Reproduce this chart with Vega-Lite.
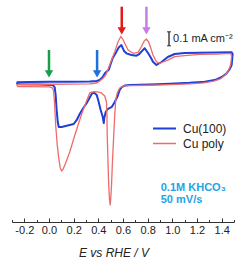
{
"$schema":"https://vega.github.io/schema/vega-lite/v6.json",
"width":222,"height":222,"autosize":"none",
"padding":{"left":12,"top":0,"right":12,"bottom":37},
"config":{"view":{"stroke":null},"font":"Liberation Sans"},
"datasets":{
"cv":[
{"s":"Cu(100)","i":1,"E":-0.262,"j":0.005},{"s":"Cu(100)","i":2,"E":-0.157,"j":0.007},{"s":"Cu(100)","i":3,"E":0.006,"j":0.009},{"s":"Cu(100)","i":4,"E":0.168,"j":0.009},{"s":"Cu(100)","i":5,"E":0.330,"j":0.010},{"s":"Cu(100)","i":6,"E":0.387,"j":0.014},{"s":"Cu(100)","i":7,"E":0.411,"j":0.021},{"s":"Cu(100)","i":8,"E":0.436,"j":0.043},{"s":"Cu(100)","i":9,"E":0.452,"j":0.068},{"s":"Cu(100)","i":10,"E":0.468,"j":0.082},{"s":"Cu(100)","i":11,"E":0.484,"j":0.093},{"s":"Cu(100)","i":12,"E":0.500,"j":0.136},{"s":"Cu(100)","i":13,"E":0.517,"j":0.179},{"s":"Cu(100)","i":14,"E":0.547,"j":0.224},{"s":"Cu(100)","i":15,"E":0.565,"j":0.254},{"s":"Cu(100)","i":16,"E":0.587,"j":0.271},{"s":"Cu(100)","i":17,"E":0.608,"j":0.229},{"s":"Cu(100)","i":18,"E":0.628,"j":0.212},{"s":"Cu(100)","i":19,"E":0.668,"j":0.200},{"s":"Cu(100)","i":20,"E":0.709,"j":0.195},{"s":"Cu(100)","i":21,"E":0.732,"j":0.207},{"s":"Cu(100)","i":22,"E":0.749,"j":0.224},{"s":"Cu(100)","i":23,"E":0.776,"j":0.248},{"s":"Cu(100)","i":24,"E":0.803,"j":0.214},{"s":"Cu(100)","i":25,"E":0.825,"j":0.182},{"s":"Cu(100)","i":26,"E":0.843,"j":0.152},{"s":"Cu(100)","i":27,"E":0.871,"j":0.129},{"s":"Cu(100)","i":28,"E":0.912,"j":0.150},{"s":"Cu(100)","i":29,"E":0.963,"j":0.186},{"s":"Cu(100)","i":30,"E":1.019,"j":0.207},{"s":"Cu(100)","i":31,"E":1.100,"j":0.214},{"s":"Cu(100)","i":32,"E":1.222,"j":0.216},{"s":"Cu(100)","i":33,"E":1.360,"j":0.218},{"s":"Cu(100)","i":34,"E":1.481,"j":0.219},{"s":"Cu(100)","i":35,"E":1.489,"j":0.207},{"s":"Cu(100)","i":36,"E":1.481,"j":0.129},{"s":"Cu(100)","i":37,"E":1.461,"j":0.093},{"s":"Cu(100)","i":38,"E":1.439,"j":0.068},{"s":"Cu(100)","i":39,"E":1.401,"j":0.043},{"s":"Cu(100)","i":40,"E":1.344,"j":0.021},{"s":"Cu(100)","i":41,"E":1.263,"j":0.009},{"s":"Cu(100)","i":42,"E":1.141,"j":0.001},{"s":"Cu(100)","i":43,"E":0.979,"j":-0.006},{"s":"Cu(100)","i":44,"E":0.817,"j":-0.011},{"s":"Cu(100)","i":45,"E":0.655,"j":-0.014},{"s":"Cu(100)","i":46,"E":0.614,"j":-0.018},{"s":"Cu(100)","i":47,"E":0.590,"j":-0.029},{"s":"Cu(100)","i":48,"E":0.573,"j":-0.050},{"s":"Cu(100)","i":49,"E":0.557,"j":-0.093},{"s":"Cu(100)","i":50,"E":0.533,"j":-0.136},{"s":"Cu(100)","i":51,"E":0.509,"j":-0.171},{"s":"Cu(100)","i":52,"E":0.476,"j":-0.186},{"s":"Cu(100)","i":53,"E":0.460,"j":-0.207},{"s":"Cu(100)","i":54,"E":0.448,"j":-0.250},{"s":"Cu(100)","i":55,"E":0.444,"j":-0.286},{"s":"Cu(100)","i":56,"E":0.436,"j":-0.243},{"s":"Cu(100)","i":57,"E":0.419,"j":-0.193},{"s":"Cu(100)","i":58,"E":0.403,"j":-0.136},{"s":"Cu(100)","i":59,"E":0.387,"j":-0.086},{"s":"Cu(100)","i":60,"E":0.363,"j":-0.068},{"s":"Cu(100)","i":61,"E":0.346,"j":-0.079},{"s":"Cu(100)","i":62,"E":0.306,"j":-0.143},{"s":"Cu(100)","i":63,"E":0.273,"j":-0.186},{"s":"Cu(100)","i":64,"E":0.249,"j":-0.221},{"s":"Cu(100)","i":65,"E":0.225,"j":-0.264},{"s":"Cu(100)","i":66,"E":0.200,"j":-0.293},{"s":"Cu(100)","i":67,"E":0.168,"j":-0.300},{"s":"Cu(100)","i":68,"E":0.135,"j":-0.307},{"s":"Cu(100)","i":69,"E":0.103,"j":-0.314},{"s":"Cu(100)","i":70,"E":0.079,"j":-0.314},{"s":"Cu(100)","i":71,"E":0.071,"j":-0.279},{"s":"Cu(100)","i":72,"E":0.062,"j":-0.193},{"s":"Cu(100)","i":73,"E":0.054,"j":-0.086},{"s":"Cu(100)","i":74,"E":0.046,"j":-0.029},{"s":"Cu(100)","i":75,"E":0.030,"j":-0.014},{"s":"Cu(100)","i":76,"E":-0.075,"j":-0.011},{"s":"Cu(100)","i":77,"E":-0.254,"j":-0.009},{"s":"Cu(100)","i":78,"E":-0.262,"j":0.005},
{"s":"Cu poly","i":1,"E":-0.262,"j":-0.011},{"s":"Cu poly","i":2,"E":0.006,"j":-0.009},{"s":"Cu poly","i":3,"E":0.330,"j":-0.006},{"s":"Cu poly","i":4,"E":0.387,"j":0.000},{"s":"Cu poly","i":5,"E":0.411,"j":0.014},{"s":"Cu poly","i":6,"E":0.436,"j":0.032},{"s":"Cu poly","i":7,"E":0.460,"j":0.057},{"s":"Cu poly","i":8,"E":0.476,"j":0.093},{"s":"Cu poly","i":9,"E":0.492,"j":0.129},{"s":"Cu poly","i":10,"E":0.517,"j":0.186},{"s":"Cu poly","i":11,"E":0.533,"j":0.224},{"s":"Cu poly","i":12,"E":0.560,"j":0.295},{"s":"Cu poly","i":13,"E":0.582,"j":0.332},{"s":"Cu poly","i":14,"E":0.598,"j":0.314},{"s":"Cu poly","i":15,"E":0.614,"j":0.284},{"s":"Cu poly","i":16,"E":0.641,"j":0.236},{"s":"Cu poly","i":17,"E":0.681,"j":0.212},{"s":"Cu poly","i":18,"E":0.722,"j":0.219},{"s":"Cu poly","i":19,"E":0.749,"j":0.259},{"s":"Cu poly","i":20,"E":0.772,"j":0.300},{"s":"Cu poly","i":21,"E":0.790,"j":0.314},{"s":"Cu poly","i":22,"E":0.808,"j":0.293},{"s":"Cu poly","i":23,"E":0.825,"j":0.250},{"s":"Cu poly","i":24,"E":0.843,"j":0.200},{"s":"Cu poly","i":25,"E":0.871,"j":0.152},{"s":"Cu poly","i":26,"E":0.898,"j":0.141},{"s":"Cu poly","i":27,"E":0.963,"j":0.164},{"s":"Cu poly","i":28,"E":1.019,"j":0.188},{"s":"Cu poly","i":29,"E":1.100,"j":0.196},{"s":"Cu poly","i":30,"E":1.222,"j":0.204},{"s":"Cu poly","i":31,"E":1.360,"j":0.207},{"s":"Cu poly","i":32,"E":1.473,"j":0.211},{"s":"Cu poly","i":33,"E":1.481,"j":0.193},{"s":"Cu poly","i":34,"E":1.473,"j":0.129},{"s":"Cu poly","i":35,"E":1.453,"j":0.086},{"s":"Cu poly","i":36,"E":1.429,"j":0.057},{"s":"Cu poly","i":37,"E":1.393,"j":0.032},{"s":"Cu poly","i":38,"E":1.336,"j":0.014},{"s":"Cu poly","i":39,"E":1.255,"j":0.001},{"s":"Cu poly","i":40,"E":1.141,"j":-0.006},{"s":"Cu poly","i":41,"E":0.979,"j":-0.011},{"s":"Cu poly","i":42,"E":0.817,"j":-0.016},{"s":"Cu poly","i":43,"E":0.655,"j":-0.018},{"s":"Cu poly","i":44,"E":0.606,"j":-0.021},{"s":"Cu poly","i":45,"E":0.573,"j":-0.036},{"s":"Cu poly","i":46,"E":0.553,"j":-0.071},{"s":"Cu poly","i":47,"E":0.541,"j":-0.121},{"s":"Cu poly","i":48,"E":0.533,"j":-0.229},{"s":"Cu poly","i":49,"E":0.525,"j":-0.371},{"s":"Cu poly","i":50,"E":0.515,"j":-0.550},{"s":"Cu poly","i":51,"E":0.507,"j":-0.729},{"s":"Cu poly","i":52,"E":0.500,"j":-0.836},{"s":"Cu poly","i":53,"E":0.496,"j":-0.871},{"s":"Cu poly","i":54,"E":0.491,"j":-0.836},{"s":"Cu poly","i":55,"E":0.484,"j":-0.729},{"s":"Cu poly","i":56,"E":0.478,"j":-0.550},{"s":"Cu poly","i":57,"E":0.472,"j":-0.371},{"s":"Cu poly","i":58,"E":0.470,"j":-0.229},{"s":"Cu poly","i":59,"E":0.466,"j":-0.136},{"s":"Cu poly","i":60,"E":0.452,"j":-0.093},{"s":"Cu poly","i":61,"E":0.425,"j":-0.071},{"s":"Cu poly","i":62,"E":0.395,"j":-0.064},{"s":"Cu poly","i":63,"E":0.363,"j":-0.061},{"s":"Cu poly","i":64,"E":0.330,"j":-0.071},{"s":"Cu poly","i":65,"E":0.298,"j":-0.143},{"s":"Cu poly","i":66,"E":0.265,"j":-0.221},{"s":"Cu poly","i":67,"E":0.233,"j":-0.307},{"s":"Cu poly","i":68,"E":0.200,"j":-0.400},{"s":"Cu poly","i":69,"E":0.168,"j":-0.493},{"s":"Cu poly","i":70,"E":0.135,"j":-0.571},{"s":"Cu poly","i":71,"E":0.115,"j":-0.614},{"s":"Cu poly","i":72,"E":0.103,"j":-0.629},{"s":"Cu poly","i":73,"E":0.091,"j":-0.607},{"s":"Cu poly","i":74,"E":0.079,"j":-0.536},{"s":"Cu poly","i":75,"E":0.067,"j":-0.443},{"s":"Cu poly","i":76,"E":0.054,"j":-0.300},{"s":"Cu poly","i":77,"E":0.046,"j":-0.157},{"s":"Cu poly","i":78,"E":0.038,"j":-0.064},{"s":"Cu poly","i":79,"E":0.030,"j":-0.036},{"s":"Cu poly","i":80,"E":0.006,"j":-0.027},{"s":"Cu poly","i":81,"E":-0.157,"j":-0.026},{"s":"Cu poly","i":82,"E":-0.254,"j":-0.025},{"s":"Cu poly","i":83,"E":-0.262,"j":-0.011}
],
"arrows":[
{"E":0.0,"top":0.236,"mid":0.066,"c":"#1b9e4b"},
{"E":0.39,"top":0.236,"mid":0.066,"c":"#1f6fdc"},
{"E":0.59,"top":0.545,"mid":0.373,"c":"#e3191c"},
{"E":0.79,"top":0.545,"mid":0.373,"c":"#c47ee6"}
],
"bar":[{"E":0.973,"lo":0.266,"hi":0.366}],
"barlabel":[{"E":1.006,"j":0.316,"t":"0.1 mA cm⁻²"}],
"notes":[{"E":0.906,"j":-0.752,"t":"0.1M KHCO₃"},{"E":0.906,"j":-0.836,"t":"50 mV/s"}]
},
"encoding":{
"x":{"field":"E","type":"quantitative","scale":{"domain":[-0.3,1.5],"nice":false,"zero":false},
"axis":{"title":"E vs RHE / V","titleFontStyle":"italic","titleFontWeight":"normal","titleFontSize":12,"titleColor":"#222","titleX":101.5,"titlePadding":11,
"values":[-0.3,-0.2,-0.1,0,0.1,0.2,0.3,0.4,0.5,0.6,0.7,0.8,0.9,1.0,1.1,1.2,1.3,1.4,1.5],
"labelExpr":"(abs(round(datum.value*10))%2==0 && abs(datum.value)<1.45) ? replace(format(datum.value,'.1f'),'\u2212','-') : ''",
"labelFontSize":11,"labelColor":"#222","labelPadding":6,"labelFlush":false,"labelOverlap":false,
"tickSize":{"condition":{"test":"abs(round(datum.value*10))%2==0","value":-4},"value":-2.5},
"tickColor":"#333","domainColor":"#333","domainWidth":1,"grid":false}}
},
"layer":[
{"data":{"name":"cv"},"mark":{"type":"line","strokeJoin":"round"},
"encoding":{
"y":{"field":"j","type":"quantitative","scale":{"domain":[-0.993,0.593],"nice":false,"zero":false},"axis":null},
"color":{"field":"s","type":"nominal","scale":{"domain":["Cu(100)","Cu poly"],"range":["#1f3fd6","#ee6b6b"]},
"legend":{"title":null,"orient":"none","legendX":140,"legendY":121,"symbolType":"stroke","symbolSize":529,"labelFontSize":12,"labelColor":"#222","labelOffset":6,"clipHeight":15,"rowPadding":0,"padding":0}},
"strokeWidth":{"field":"s","type":"nominal","scale":{"domain":["Cu(100)","Cu poly"],"range":[2,1.3]},"legend":{"title":null,"orient":"none","legendX":140,"legendY":121,"symbolType":"stroke","symbolSize":529,"labelFontSize":12,"labelColor":"#222","labelOffset":6,"clipHeight":15,"rowPadding":0,"padding":0}},
"order":{"field":"i","type":"quantitative"}
}},
{"data":{"name":"arrows"},"mark":{"type":"rule","strokeWidth":2.5},
"encoding":{"y":{"field":"top","type":"quantitative","axis":null},"y2":{"field":"mid"},"color":{"field":"c","type":"nominal","scale":null}}},
{"data":{"name":"arrows"},"mark":{"type":"point","shape":"triangle-down","filled":true,"size":70,"opacity":1},
"encoding":{"y":{"field":"mid","type":"quantitative","axis":null},"color":{"field":"c","type":"nominal","scale":null}}},
{"data":{"name":"bar"},"mark":{"type":"rule","strokeWidth":1.2,"color":"#111"},
"encoding":{"y":{"field":"lo","type":"quantitative","axis":null},"y2":{"field":"hi"}}},
{"data":{"name":"bar"},"mark":{"type":"tick","orient":"horizontal","size":4,"thickness":1.2,"color":"#111"},
"encoding":{"y":{"field":"lo","type":"quantitative","axis":null}}},
{"data":{"name":"bar"},"mark":{"type":"tick","orient":"horizontal","size":4,"thickness":1.2,"color":"#111"},
"encoding":{"y":{"field":"hi","type":"quantitative","axis":null}}},
{"data":{"name":"barlabel"},"mark":{"type":"text","align":"left","baseline":"middle","fontSize":11,"color":"#222"},
"encoding":{"y":{"field":"j","type":"quantitative","axis":null},"text":{"field":"t"}}},
{"data":{"name":"notes"},"mark":{"type":"text","align":"left","baseline":"middle","fontSize":11,"fontWeight":"bold","color":"#1fa3e6"},
"encoding":{"y":{"field":"j","type":"quantitative","axis":null},"text":{"field":"t"}}}
]
}
